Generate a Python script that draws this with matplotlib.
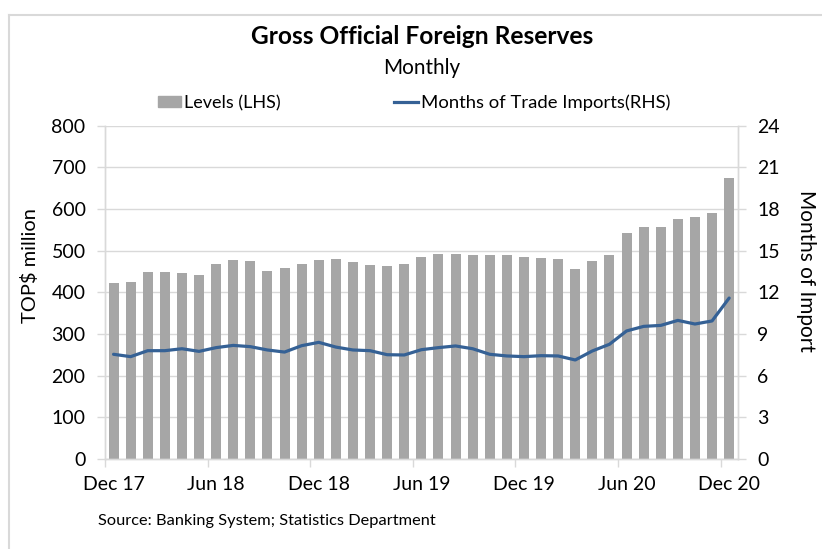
import numpy as np
import matplotlib as mpl
mpl.use('Agg')
import matplotlib.pyplot as plt
from matplotlib.lines import Line2D
from matplotlib.patches import Patch

plt.rcParams['font.family'] = ['Lato', 'DejaVu Sans']

# Dec 17 .. Dec 20, monthly
months = ["Dec 17", "Jan 18", "Feb 18", "Mar 18", "Apr 18", "May 18", "Jun 18",
          "Jul 18", "Aug 18", "Sep 18", "Oct 18", "Nov 18", "Dec 18",
          "Jan 19", "Feb 19", "Mar 19", "Apr 19", "May 19", "Jun 19",
          "Jul 19", "Aug 19", "Sep 19", "Oct 19", "Nov 19", "Dec 19",
          "Jan 20", "Feb 20", "Mar 20", "Apr 20", "May 20", "Jun 20",
          "Jul 20", "Aug 20", "Sep 20", "Oct 20", "Nov 20", "Dec 20"]
levels = [422, 425, 448, 448, 446, 442, 469, 477, 475, 452, 458, 469, 478,
          479, 473, 465, 464, 469, 484, 492, 492, 490, 490, 490, 486, 483,
          479, 457, 475, 490, 543, 556, 556, 575, 581, 590, 675]
import_months = [7.54, 7.37, 7.80, 7.80, 7.94, 7.75, 8.02, 8.18, 8.09, 7.85,
                 7.70, 8.16, 8.40, 8.06, 7.85, 7.80, 7.51, 7.49, 7.87, 8.02,
                 8.14, 7.94, 7.54, 7.42, 7.37, 7.44, 7.42, 7.13, 7.78, 8.26,
                 9.22, 9.55, 9.62, 9.98, 9.72, 9.94, 11.59]
tick_labels = ["Dec 17", "Jun 18", "Dec 18", "Jun 19", "Dec 19", "Jun 20", "Dec 20"]

bar_col = '#a6a6a6'
line_col = '#356195'
grid_col = '#d9d9d9'
W, H = 822, 549

fig = plt.figure(figsize=(W / 100, H / 100), dpi=100)
renderer = fig.canvas.get_renderer()


def fit(txt, length_px):
    # scale a text so its long side matches the reference in pixels
    bb = txt.get_window_extent(renderer)
    txt.set_fontsize(txt.get_fontsize() * length_px / max(bb.width, bb.height))


ax = fig.add_axes([105 / W, 1 - 459 / H, (737.7 - 105) / W, (459 - 125.7) / H])
ax2 = ax.twinx()

x = np.arange(len(months)) + 0.5
ax.bar(x, levels, width=0.58, color=bar_col, zorder=2)
ax2.plot(x, import_months, color=line_col, lw=2.3, solid_joinstyle='round',
         solid_capstyle='round', zorder=3)

ax.set_xlim(0, len(months))
ax.set_ylim(0, 800)
ax.set_yticks(range(0, 801, 100))
ax2.set_ylim(0, 24)
ax2.set_yticks(range(0, 25, 3))

# ticks sit between months, labels on the month itself
pos = [months.index(m) for m in tick_labels]
ax.set_xticks(pos)
ax.set_xticklabels([])
ax.set_xticks([p + 0.5 for p in pos], minor=True)
ax.set_xticklabels(tick_labels, minor=True)
ax.tick_params(axis='x', which='minor', length=0, pad=12, labelsize=14)

ax.yaxis.grid(True, color=grid_col, lw=1.0, zorder=0)
ax.set_axisbelow(True)

for a in (ax, ax2):
    a.spines['top'].set_visible(False)
    for s in ('left', 'right', 'bottom'):
        a.spines[s].set_color(grid_col)
        a.spines[s].set_linewidth(1.0)
    a.tick_params(axis='both', which='major', colors='#000000', labelsize=14,
                  length=6, width=1.0, color=grid_col)
ax.tick_params(axis='y', pad=8)
ax2.tick_params(axis='y', pad=8)

ylab = fig.text(30 / W, 1 - 266 / H, "TOP$ million", rotation=90,
                ha='center', va='center', fontsize=14)
fit(ylab, 115)
ylab2 = fig.text(806 / W, 1 - 271 / H, "Months of Import", rotation=270,
                 ha='center', va='center', fontsize=14)
fit(ylab2, 162)

title = fig.text(422 / W, 1 - 36 / H, "Gross Official Foreign Reserves",
                 ha='center', va='center', fontsize=17, fontweight='bold')
fit(title, 342)
sub = fig.text(421.5 / W, 1 - 68 / H, "Monthly", ha='center', va='center',
               fontsize=14)
fit(sub, 77)

leg_y = 1 - 103 / H
leg1 = fig.legend([Patch(color=bar_col)], ["Levels (LHS)"], loc='center left',
                  bbox_to_anchor=(158 / W, leg_y), frameon=False, fontsize=13,
                  borderpad=0, borderaxespad=0, handlelength=1.25,
                  handleheight=0.55, handletextpad=0.2)
leg2 = fig.legend([Line2D([0], [0], color=line_col, lw=2.3)],
                  ["Months of Trade Imports(RHS)"], loc='center left',
                  bbox_to_anchor=(394 / W, leg_y), frameon=False, fontsize=13.3,
                  borderpad=0, borderaxespad=0, handlelength=1.3,
                  handletextpad=0.15)

src = fig.text(98 / W, 1 - 521 / H, "Source: Banking System; Statistics Department",
               ha='left', va='center', fontsize=11)
fit(src, 337)

# outer frame (only top and left edges are visible)
fig.add_artist(Line2D([8.5 / W, 8.5 / W], [0.0, 1 - 14.5 / H], color=grid_col,
                      lw=1.5, transform=fig.transFigure))
fig.add_artist(Line2D([8.5 / W, 1.0], [1 - 14.5 / H, 1 - 14.5 / H], color=grid_col,
                      lw=1.5, transform=fig.transFigure))

fig.savefig('out.png', dpi=100)
